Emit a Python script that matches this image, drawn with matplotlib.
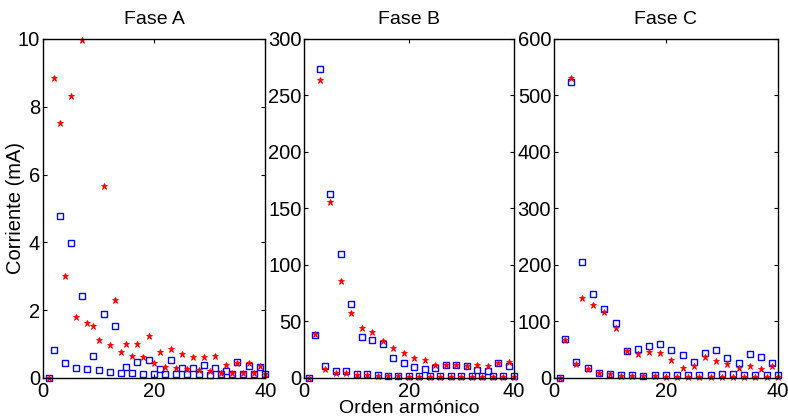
import numpy as np
import matplotlib.pyplot as plt

plt.rcParams['font.family'] = ['Liberation Sans', 'DejaVu Sans']

orden = np.arange(1, 41)

# Fase A (mA)
fase_a_cuad = [0, 0.81, 4.77, 0.44, 3.97, 0.30, 2.43, 0.27, 0.64, 0.23,
               1.90, 0.18, 1.53, 0.16, 0.33, 0.15, 0.47, 0.13, 0.54, 0.13,
               0.27, 0.13, 0.52, 0.11, 0.30, 0.11, 0.29, 0.11, 0.39, 0.10,
               0.30, 0.11, 0.21, 0.11, 0.46, 0.11, 0.36, 0.12, 0.32, 0.11]
fase_a_ast = [0, 8.84, 7.51, 3.01, 8.33, 1.80, 9.97, 1.61, 1.53, 1.11,
              5.67, 0.97, 2.29, 0.77, 0.99, 0.65, 1.00, 0.63, 1.25, 0.43,
              0.76, 0.32, 0.86, 0.28, 0.72, 0.25, 0.63, 0.22, 0.63, 0.19,
              0.66, 0.14, 0.37, 0.14, 0.45, 0.14, 0.44, 0.14, 0.36, 0.12]

# Fase B
fase_b_cuad = [0, 38, 273.5, 10.3, 163, 6.5, 109.4, 6.5, 65.2, 3.5,
               36, 3.5, 34, 2.4, 29.8, 2, 17.4, 2, 13, 2,
               10, 2, 8.3, 2, 9.1, 2, 11.2, 2, 11.5, 2,
               10.3, 2, 7.1, 2, 6.5, 2, 13.6, 2, 10.9, 2]
fase_b_ast = [0, 38.6, 263.8, 8, 155.5, 4.4, 85.8, 4.7, 57.8, 3,
              44.2, 3, 40.7, 1.8, 32.4, 1.5, 26.8, 1.5, 21.8, 1.2,
              17.7, 1.2, 15.9, 1.2, 11.8, 1.2, 11.2, 1.2, 11.2, 0.9,
              10.9, 0.9, 11.2, 0.9, 10.6, 0.9, 13, 0.6, 13.9, 0.9]

# Fase C
fase_c_cuad = [0, 69, 523, 27.7, 204.7, 17.7, 148.7, 9.4, 122.7, 7,
               97.3, 5.9, 48.4, 5.3, 51.3, 4.1, 57.2, 5.3, 59.6, 5.3,
               50.1, 5.3, 40.1, 5.3, 28.9, 5.3, 44.8, 5.3, 50.1, 6.5,
               36, 7, 26.5, 5.9, 43, 5.9, 37.2, 5.3, 26, 5.9]
fase_c_ast = [0, 67.8, 531, 24.8, 142.2, 15.9, 129.8, 8.3, 117.4, 6.5,
              88.5, 3.5, 47.2, 4.1, 41.9, 2.9, 46.6, 2.9, 44.8, 2.4,
              32.4, 2.4, 18.3, 1.8, 21.2, 1.8, 37.2, 1.8, 29.5, 1.8,
              24.8, 1.8, 17.1, 1.8, 21.2, 1.8, 16.5, 1.8, 21.8, 2.4]

titulos = ['Fase A', 'Fase B', 'Fase C']
series = [(fase_a_ast, fase_a_cuad), (fase_b_ast, fase_b_cuad), (fase_c_ast, fase_c_cuad)]
limites_y = [(0, 10, 2), (0, 300, 50), (0, 600, 100)]

fig = plt.figure(figsize=(7.88, 4.19), dpi=100)
posiciones = [[0.0546, 0.098, 0.282, 0.809],
              [0.386, 0.098, 0.266, 0.809],
              [0.703, 0.098, 0.284, 0.809]]

for i in range(3):
    ax = fig.add_axes(posiciones[i])
    ast, cuad = series[i]
    ax.plot(orden, cuad, 's', mfc='none', mec='blue', ms=4.5, mew=1.0, clip_on=False)
    ax.plot(orden, ast, '*', color='red', ms=5, mew=0.6, clip_on=False)
    ymin, ymax, paso = limites_y[i]
    ax.set_xlim(0, 40)
    ax.set_ylim(ymin, ymax)
    ax.set_xticks([0, 20, 40])
    ax.set_yticks(np.arange(ymin, ymax + paso, paso))
    ax.tick_params(direction='in', top=True, right=True, labelsize=14.5, length=3, width=0.8, pad=2)
    ax.tick_params(axis='x', pad=3)
    for s in ax.spines.values():
        s.set_linewidth(1.0)
    ax.set_title(titulos[i], fontsize=14, pad=11)
    if i == 0:
        ax.set_ylabel('Corriente (mA)', fontsize=14.5)
        ax.yaxis.set_label_coords(-0.08, 0.5)
    if i == 1:
        ax.set_xlabel('Orden armónico', fontsize=14)
        ax.xaxis.set_label_coords(0.5, -0.066)

fig.savefig('out.png', dpi=100)
